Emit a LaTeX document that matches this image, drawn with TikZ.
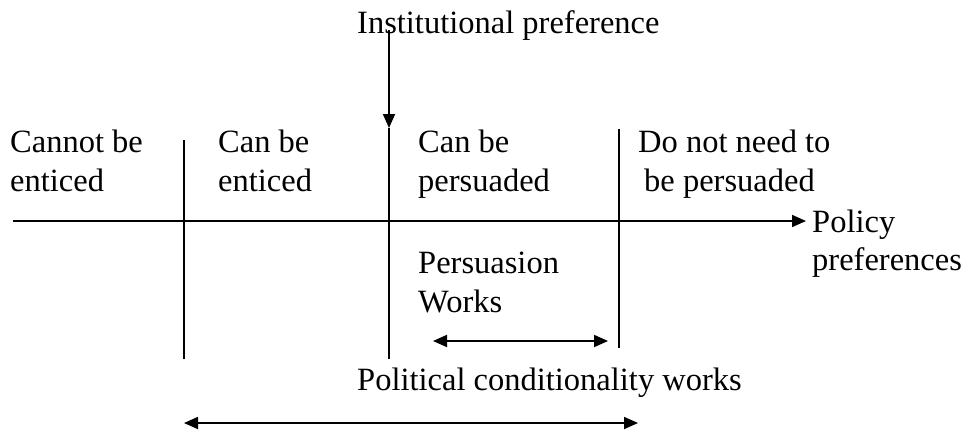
\documentclass[tikz,border=0pt]{standalone}
\usepackage{fontspec}
\setmainfont{Liberation Serif}
\usetikzlibrary{arrows.meta}
\begin{document}
\begin{tikzpicture}[x=1pt,y=-1pt,
  lbl/.style={anchor=base west,inner sep=0pt,font=\fontsize{32.5}{39}\selectfont},
  rule/.style={line width=1.8pt},
  tip/.style={},
  arr/.style={line width=1.8pt,-{Triangle[length=14pt,width=12pt]}},
  darr/.style={line width=1.8pt,{Triangle[length=14pt,width=12pt]}-{Triangle[length=14pt,width=12pt]}}]
\useasboundingbox (0,0) rectangle (969,432);
% texts
\node[lbl] (inst) at (357,33) {Institutional preference};
\node[lbl] (c1a) at (10,152) {Cannot be};
\node[lbl] (c1b) at (10,191) {enticed};
\node[lbl] (c2a) at (218,152) {Can be};
\node[lbl] (c2b) at (218,191) {enticed};
\node[lbl] (c3a) at (418,152) {Can be};
\node[lbl] (c3b) at (418,191) {persuaded};
\node[lbl] (c4a) at (638,152) {Do not need to};
\node[lbl] (c4b) at (644,191) {be persuaded};
\node[lbl] (pol1) at (812,232) {Policy};
\node[lbl] (pol2) at (812,270) {preferences};
\node[lbl] (pw1) at (418,273) {Persuasion};
\node[lbl] (pw2) at (418,312) {Works};
\node[lbl] (pcw) at (357,390) {Political conditionality works};
% coordinates
\coordinate (axL) at (13,221);
\coordinate (axR) at (806,221);
\coordinate (v1t) at (184,140);
\coordinate (v1b) at (184,359);
\coordinate (v2t) at (389,128);
\coordinate (v2b) at (389,359);
\coordinate (v3t) at (619,129);
\coordinate (v3b) at (619,348);
\coordinate (instS) at (389,30);
\coordinate (pL) at (433,341);
\coordinate (pR) at (608,341);
\coordinate (cL) at (184,423);
\coordinate (cR) at (638,423);
% drawing
\draw[arr] (axL) -- (axR);
\draw[rule] (v1t) -- (v1b);
\draw[rule] (v2t) -- (v2b);
\draw[rule] (v3t) -- (v3b);
\draw[arr] (instS) -- (v2t);
\draw[darr] (pL) -- (pR);
\draw[darr] (cL) -- (cR);
\end{tikzpicture}
\end{document}
